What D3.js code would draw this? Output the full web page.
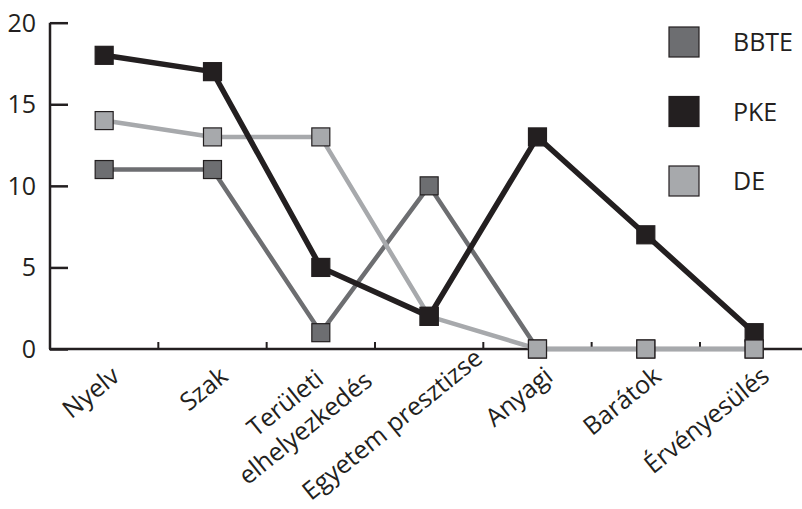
<!DOCTYPE html>
<html>
<head>
<meta charset="utf-8">
<script src="https://cdn.jsdelivr.net/npm/d3@7"></script>
<style>
  html, body { margin: 0; padding: 0; background: #fff; }
  svg { display: block; }
  text { font-family: "Open Sans", "Noto Sans", sans-serif; fill: #231f20; }
</style>
</head>
<body>
<svg id="chart" width="802" height="509"></svg>
<script>
// Categories (line breaks mark wrapped labels)
const categories = ["Nyelv", "Szak", "Területi\nelhelyezkedés", "Egyetem presztizse", "Anyagi", "Barátok", "Érvényesülés"];

// Series values, one per category
const bbte = [11, 11, 1, 10, 0, 0, 0];
const pke  = [18, 17, 5, 2, 13, 7, 1];
const de   = [14, 13, 13, 2, 0, 0, 0];

const seriesNames = ["BBTE", "PKE", "DE"];
const yTicks = [0, 5, 10, 15, 20];

// Styles per series
const styles = {
  BBTE: { color: "#6d6e71", width: 4.5 },
  PKE:  { color: "#231f20", width: 5.5 },
  DE:   { color: "#a7a9ac", width: 4.5 }
};
const ink = "#231f20";

// Manual nudges for the two crowded middle labels (slid right so they stay inside the frame)
const labelNudge = {
  "Területi\nelhelyezkedés": [26, -8],
  "Egyetem presztizse": [38, -18]
};

const series = [
  { name: "BBTE", values: bbte },
  { name: "PKE",  values: pke },
  { name: "DE",   values: de }
];
// lines are stacked BBTE, DE, PKE (PKE on top)
const lineOrder = ["BBTE", "DE", "PKE"];

const svg = d3.select("#chart");

const plot = { left: 50, right: 808.3, top: 22.7, bottom: 349 };

const x = d3.scaleBand().domain(categories).range([plot.left, plot.right]).padding(0);
const cx = c => x(c) + x.bandwidth() / 2;
const y = d3.scaleLinear().domain([0, 20]).range([plot.bottom, plot.top]);

// ---- Y axis: line on the left, ticks pointing into the plot ----
const yAxis = d3.axisRight(y).tickValues(yTicks).tickSize(18).tickFormat("");
const gy = svg.append("g").attr("transform", `translate(${plot.left},0)`).call(yAxis);
gy.select(".domain").attr("d", `M0,${plot.top}V${plot.bottom}`).attr("stroke", ink).attr("stroke-width", 2.5);
gy.selectAll(".tick line").attr("stroke", ink).attr("stroke-width", 2.5);

svg.append("g").selectAll("text").data(yTicks).join("text")
  .attr("x", 36)
  .attr("y", d => y(d))
  .attr("dy", "0.36em")
  .attr("text-anchor", "end")
  .attr("font-size", 25)
  .text(d => d);

// ---- X axis: baseline with short upward ticks between categories ----
const gx = svg.append("g");
gx.append("line")
  .attr("x1", plot.left - 1).attr("x2", plot.right)
  .attr("y1", plot.bottom).attr("y2", plot.bottom)
  .attr("stroke", ink).attr("stroke-width", 2.5);
gx.selectAll("line.tick").data(categories.slice(1)).join("line")
  .attr("class", "tick")
  .attr("x1", d => x(d)).attr("x2", d => x(d))
  .attr("y1", plot.bottom).attr("y2", plot.bottom - 7)
  .attr("stroke", ink).attr("stroke-width", 2);

// ---- Category labels, rotated, lines centred on each other ----
const lineH = 32;
const labelAngle = -39;
categories.forEach(c => {
  const lines = c.split("\n");
  const [nx, ny] = labelNudge[c] || [0, 0];
  const t = svg.append("text")
    .attr("font-size", 25)
    .attr("text-anchor", "end")
    .attr("transform", `translate(${cx(c) + 17 + nx},${plot.bottom + 30 + ny}) rotate(${labelAngle})`);
  const spans = lines.map((ln, i) => t.append("tspan")
    .attr("x", 0)
    .attr("y", (i - (lines.length - 1) / 2) * lineH)
    .text(ln));
  const widths = spans.map(s => s.node().getComputedTextLength());
  const maxW = d3.max(widths);
  spans.forEach((s, i) => s.attr("x", -(maxW - widths[i]) / 2));
});

// ---- Lines ----
const line = d3.line().x((d, i) => cx(categories[i])).y(d => y(d));
lineOrder.forEach(name => {
  const s = series.find(s => s.name === name);
  svg.append("path")
    .datum(s.values)
    .attr("d", line)
    .attr("fill", "none")
    .attr("stroke", styles[name].color)
    .attr("stroke-width", styles[name].width)
    .attr("stroke-linejoin", "miter");
});

// ---- Markers: per category, lower values are drawn last so they stay visible ----
const m = 18;
const markers = [];
categories.forEach((c, i) => {
  const pts = lineOrder.map((name, k) => ({ name, k, c, v: series.find(s => s.name === name).values[i] }));
  pts.sort((a, b) => (b.v - a.v) || (a.k - b.k));
  markers.push(...pts);
});
svg.append("g").selectAll("rect").data(markers).join("rect")
  .attr("x", d => cx(d.c) - m / 2)
  .attr("y", d => y(d.v) - m / 2)
  .attr("width", m).attr("height", m)
  .attr("fill", d => styles[d.name].color)
  .attr("stroke", ink).attr("stroke-width", 1.2);

// ---- Legend ----
const legend = svg.append("g");
const legY = d3.scalePoint().domain(seriesNames).range([42, 181]);
legend.selectAll("rect").data(seriesNames).join("rect")
  .attr("x", 669).attr("y", d => legY(d) - 15)
  .attr("width", 30).attr("height", 30)
  .attr("fill", d => styles[d].color)
  .attr("stroke", ink).attr("stroke-width", 1.2);
legend.selectAll("text").data(seriesNames).join("text")
  .attr("x", 733).attr("y", d => legY(d))
  .attr("dy", "0.36em")
  .attr("font-size", 25)
  .text(d => d);
</script>
</body>
</html>
